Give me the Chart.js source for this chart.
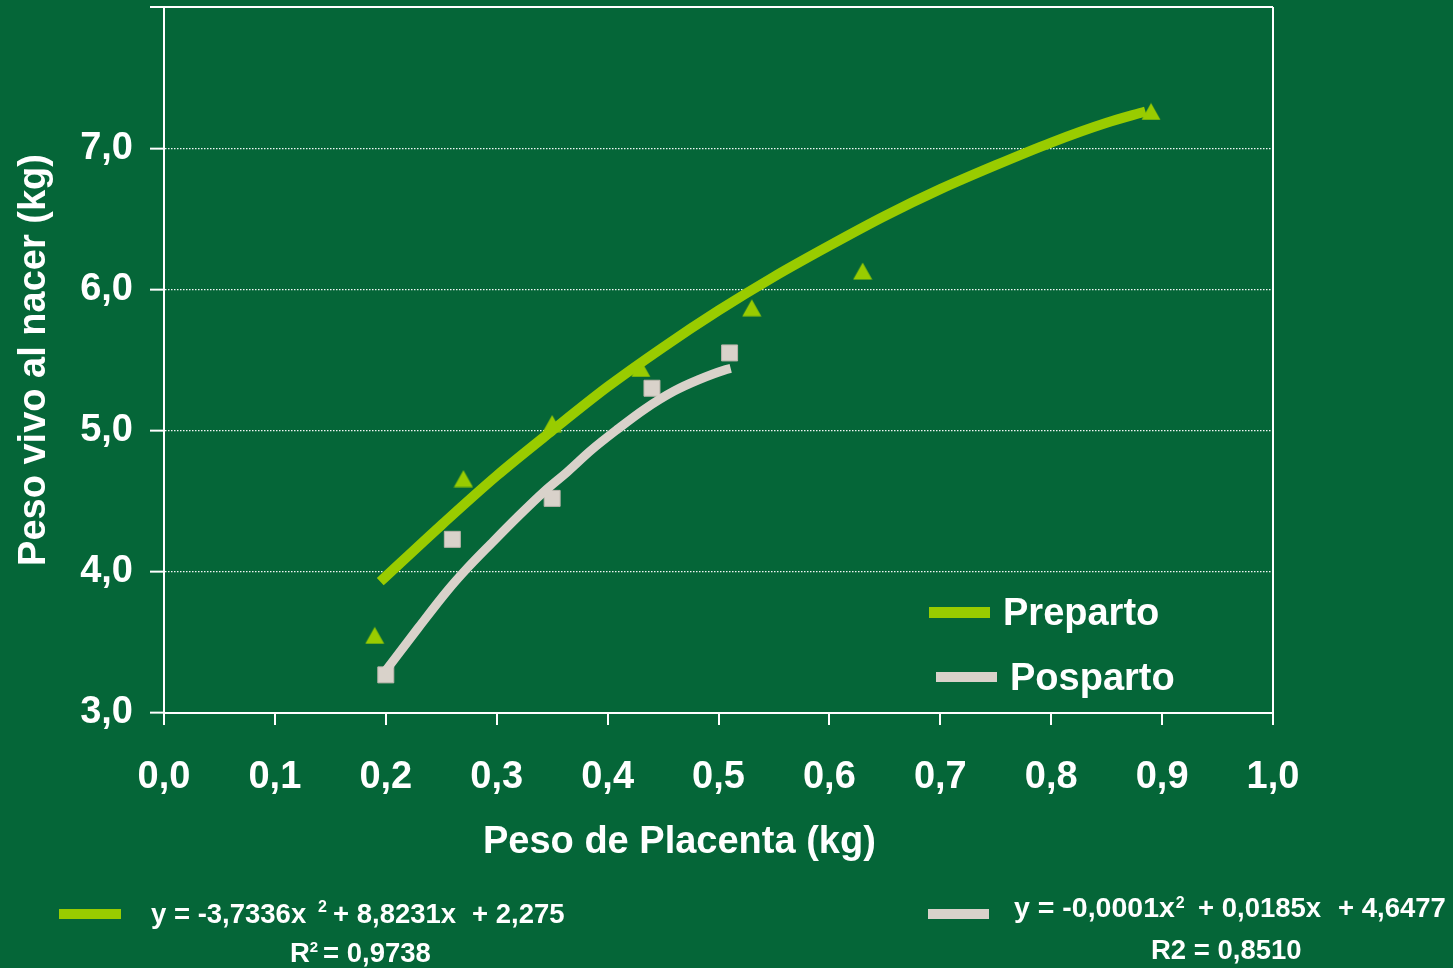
<!DOCTYPE html>
<html>
<head>
<meta charset="utf-8">
<title>Peso vivo al nacer vs Peso de Placenta</title>
<style>
  html, body { margin: 0; padding: 0; background: #056638; }
  #wrap { position: relative; width: 1453px; height: 968px; }
  canvas { display: block; }
</style>
<script src="https://cdn.jsdelivr.net/npm/chart.js@4.4.1/dist/chart.umd.min.js"></script>
</head>
<body>
<div id="wrap"><canvas id="chart" width="1453" height="968"></canvas></div>
<script>
// Observed values: placenta weight (kg) and live weight at birth (kg)
const prepartoPlacenta = [0.19, 0.27, 0.35, 0.43, 0.53, 0.63, 0.89];
const prepartoPeso     = [3.55, 4.66, 5.05, 5.44, 5.87, 6.13, 7.26];
const pospartoPlacenta = [0.20, 0.26, 0.35, 0.44, 0.51];
const pospartoPeso     = [3.27, 4.23, 4.52, 5.30, 5.55];

// Fitted trend curves
const prepartoTrendX = [0.195, 0.25, 0.30, 0.35, 0.40, 0.45, 0.50, 0.55, 0.60, 0.65, 0.70, 0.75, 0.80, 0.85, 0.885];
const prepartoTrendY = [3.93, 4.33, 4.68, 5.00, 5.31, 5.59, 5.85, 6.09, 6.31, 6.52, 6.71, 6.88, 7.04, 7.18, 7.26];
const pospartoTrendX = [0.198, 0.229, 0.256, 0.274, 0.295, 0.319, 0.343, 0.364, 0.385, 0.409, 0.433, 0.460, 0.482, 0.506, 0.511];
const pospartoTrendY = [3.28, 3.60, 3.87, 4.03, 4.20, 4.39, 4.57, 4.71, 4.86, 5.01, 5.15, 5.28, 5.36, 5.43, 5.44];

// Axis tick labels
const xTickLabels = ['0,0', '0,1', '0,2', '0,3', '0,4', '0,5', '0,6', '0,7', '0,8', '0,9', '1,0'];
const yTickLabels = ['3,0', '4,0', '5,0', '6,0', '7,0', ''];

const BG = '#056638';
const GREEN = '#99CC00';
const GREY = '#D9D2CA';
const WHITE = '#FFFFFF';
const FONT = '"Liberation Sans", Arial, Helvetica, sans-serif';

const toPoints = (xs, ys) => xs.map((x, i) => ({ x, y: ys[i] }));

// Triangle marker centred on its bounding box
function triangleMarker(w, h, color) {
  const c = document.createElement('canvas');
  c.width = w; c.height = h;
  const g = c.getContext('2d');
  g.fillStyle = color;
  g.beginPath();
  g.moveTo(w / 2, 0.5);
  g.lineTo(w - 0.5, h - 0.5);
  g.lineTo(0.5, h - 0.5);
  g.closePath();
  g.fill();
  return c;
}

// Draws bold white text; returns the x where it ends
function text(ctx, s, x, y, size) {
  ctx.font = 'bold ' + size + 'px ' + FONT;
  ctx.textAlign = 'left';
  ctx.textBaseline = 'alphabetic';
  ctx.fillStyle = WHITE;
  ctx.fillText(s, x, y);
  return x + ctx.measureText(s).width;
}

// Background, legend, x-axis title and trend equations
const decorations = {
  id: 'decorations',
  beforeDraw(chart) {
    const ctx = chart.ctx;
    ctx.save();
    ctx.fillStyle = BG;
    ctx.fillRect(0, 0, chart.width, chart.height);
    ctx.restore();
  },
  afterDraw(chart) {
    const ctx = chart.ctx;
    ctx.save();
    // legend
    ctx.fillStyle = GREEN; ctx.fillRect(929, 607, 61, 11);
    text(ctx, 'Preparto', 1003, 625, 38);
    ctx.fillStyle = GREY; ctx.fillRect(936, 672, 61, 10);
    text(ctx, 'Posparto', 1010, 690, 38);

    // x-axis title
    text(ctx, 'Peso de Placenta (kg)', 483, 853, 38);

    // Preparto equation
    ctx.fillStyle = GREEN; ctx.fillRect(59, 909, 62, 10);
    text(ctx, 'y = -3,7336x', 151, 923, 27.5);
    text(ctx, '2', 318, 912, 16);
    text(ctx, '+ 8,8231x', 333, 923, 27.5);
    text(ctx, '+ 2,275', 472, 923, 27.5);
    const rEnd = text(ctx, 'R', 290, 962, 27.5);
    text(ctx, '2', rEnd, 952, 15);
    text(ctx, '= 0,9738', 323, 962, 27.5);

    // Posparto equation
    ctx.fillStyle = GREY; ctx.fillRect(928, 909, 61, 10);
    const xEnd = text(ctx, 'y = -0,0001x', 1014, 917, 28.5);
    text(ctx, '2', xEnd + 1, 908, 16);
    text(ctx, '+ 0,0185x', 1198, 917, 27.5);
    text(ctx, '+ 4,6477', 1338, 917, 27.5);
    text(ctx, 'R2 = 0,8510', 1151, 959, 27.5);
    ctx.restore();
  }
};

const tickFont = { family: FONT, size: 38, weight: 'bold' };

new Chart(document.getElementById('chart'), {
  type: 'scatter',
  data: {
    datasets: [
      {
        label: 'Preparto',
        data: toPoints(prepartoTrendX, prepartoTrendY),
        showLine: true,
        borderColor: GREEN,
        borderWidth: 10,
        pointRadius: 0,
        cubicInterpolationMode: 'monotone',
        order: 0
      },
      {
        label: 'Posparto',
        data: toPoints(pospartoTrendX, pospartoTrendY),
        showLine: true,
        borderColor: GREY,
        borderWidth: 9,
        pointRadius: 0,
        cubicInterpolationMode: 'monotone',
        order: 0
      },
      {
        label: 'Preparto (observado)',
        data: toPoints(prepartoPlacenta, prepartoPeso),
        showLine: false,
        pointStyle: triangleMarker(20, 18, GREEN),
        pointRadius: 10,
        order: 1
      },
      {
        label: 'Posparto (observado)',
        data: toPoints(pospartoPlacenta, pospartoPeso),
        showLine: false,
        pointStyle: 'rect',
        pointRadius: 11.3,
        backgroundColor: GREY,
        borderColor: '#BDB6AD',
        borderWidth: 1,
        order: 1
      }
    ]
  },
  options: {
    responsive: false,
    animation: false,
    devicePixelRatio: 1,
    events: [],
    layout: { autoPadding: false, padding: { top: 7, right: 180, bottom: 0, left: 0 } },
    plugins: {
      legend: { display: false },
      tooltip: { enabled: false }
    },
    scales: {
      x: {
        type: 'linear',
        position: 'bottom',
        min: 0,
        max: 1,
        ticks: {
          stepSize: 0.1,
          autoSkip: false,
          maxRotation: 0,
          padding: 30,
          color: WHITE,
          font: tickFont,
          callback: (v, i) => xTickLabels[i]
        },
        grid: {
          color: c => (c.tick && Math.abs(c.tick.value - 1) < 1e-6) ? WHITE : 'rgba(0,0,0,0)',
          lineWidth: 2,
          tickColor: WHITE,
          tickLength: 12,
          tickWidth: 2
        },
        border: { color: WHITE, width: 2 },
        afterFit: s => { s.height = 255; s.paddingLeft = 0; s.paddingRight = 0; }
      },
      y: {
        type: 'linear',
        min: 3,
        max: 8,
        ticks: {
          stepSize: 1,
          padding: 17,
          color: WHITE,
          font: tickFont,
          callback: (v, i) => yTickLabels[i]
        },
        grid: {
          color: c => {
            const v = c.tick ? c.tick.value : 3;
            if (v > 7.5) return WHITE;
            if (v > 3.5) return 'rgba(255,255,255,0.95)';
            return 'rgba(0,0,0,0)';
          },
          lineWidth: c => (c.tick && c.tick.value > 7.5) ? 2 : 1.3,
          tickColor: WHITE,
          tickLength: 14,
          tickWidth: 2
        },
        border: {
          color: WHITE,
          width: 2,
          dash: c => (c.tick && c.tick.value > 7.5) ? [] : [1.5, 1.5]
        },
        title: {
          display: true,
          text: 'Peso vivo al nacer (kg)',
          color: WHITE,
          font: tickFont,
          padding: { top: 12, bottom: 0 }
        },
        afterFit: s => { s.width = 164; s.paddingTop = 0; s.paddingBottom = 0; }
      }
    }
  },
  plugins: [decorations]
});
</script>
</body>
</html>
